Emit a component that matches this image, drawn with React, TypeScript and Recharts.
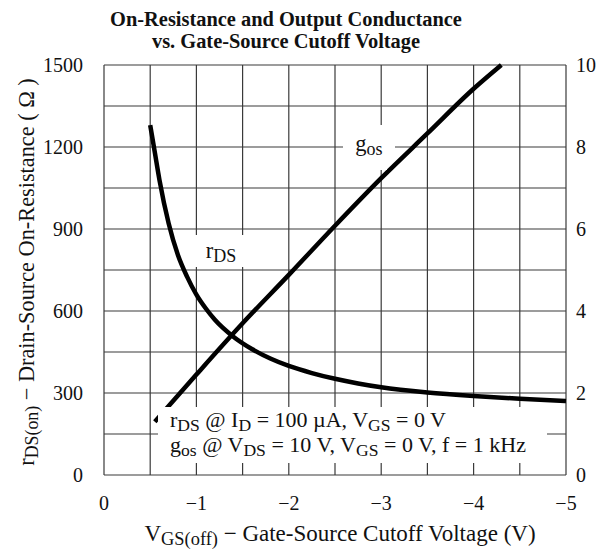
import { LineChart, Line, XAxis, YAxis } from 'recharts'

// V_GS(off) in volts (negative)
const rdsVolts = [-0.5, -0.55, -0.6, -0.7, -0.8, -0.9, -1.0, -1.1, -1.2, -1.4, -1.6, -1.8, -2.0, -2.25, -2.5, -2.75, -3.0, -3.5, -4.0, -4.5, -5.0]
const rdsOhms  = [1280, 1180, 1080, 920, 805, 725, 660, 610, 568, 506, 461, 426, 399, 373, 352, 335, 321, 302, 289, 279, 271]

const gosVolts = [-0.55, -1.0, -1.5, -2.0, -2.5, -3.0, -3.5, -4.0, -4.3]
const gosValues = [1.3, 2.45, 3.7, 4.88, 6.08, 7.24, 8.33, 9.42, 10]

const xTicks = [0, -0.5, -1, -1.5, -2, -2.5, -3, -3.5, -4, -4.5, -5]
const rTicks = [0, 150, 300, 450, 600, 750, 900, 1050, 1200, 1350, 1500]
const gTicks = [0, 2, 4, 6, 8, 10]

const rdsData = rdsVolts.map((v, i) => ({ v, r: rdsOhms[i] }))
const gosData = gosVolts.map((v, i) => ({ v, g: gosValues[i] }))

// grid drawn as two-point series, one per tick, so it goes through the chart scales
const vGrid = xTicks.map(t => [{ v: t, r: 0 }, { v: t, r: 1500 }])
const hGrid = rTicks.map(t => [{ v: 0, r: t }, { v: -5, r: t }])

const FONT = '"Liberation Serif", "Times New Roman", serif'
const GRID = '#3a3a3a'

const sub = { fontSize: '0.8em', position: 'relative' as const, top: '0.22em' }

// only whole volts / multiples of 300 get a label, the half steps are grid only
const VoltTick = ({ x, y, payload }: any) =>
  Number.isInteger(payload.value) ? (
    <text x={x} y={y} dy="0.71em" textAnchor="middle" fontSize={20} fill="#111" fontFamily={FONT}>
      {payload.value === 0 ? '0' : '\u2212' + Math.abs(payload.value)}
    </text>
  ) : null

const OhmTick = ({ x, y, payload }: any) =>
  payload.value % 300 === 0 ? (
    <text x={x} y={y} dy="0.355em" textAnchor="end" fontSize={20} fill="#111" fontFamily={FONT}>
      {payload.value}
    </text>
  ) : null

const GosTick = ({ x, y, payload }: any) => (
  <text x={x} y={y} dy="0.355em" textAnchor="start" fontSize={20} fill="#111" fontFamily={FONT}>
    {payload.value}
  </text>
)

export default function App() {
  return (
    <div style={{ position: 'absolute', left: 0, top: 0, width: 605, height: 552, background: '#fff', fontFamily: FONT, color: '#111' }}>
      <LineChart width={605} height={552} margin={{ top: 65, right: 0, bottom: 0, left: 0 }}>
        <XAxis
          dataKey="v"
          type="number"
          domain={[-5, 0]}
          reversed
          ticks={xTicks}
          interval={0}
          height={77}
          tickLine={false}
          axisLine={false}
          tickSize={0}
          tickMargin={21}
          tick={<VoltTick />}
        />
        <YAxis
          domain={[0, 1500]}
          ticks={rTicks}
          interval={0}
          width={104}
          tickLine={false}
          axisLine={false}
          tickSize={0}
          tickMargin={21}
          tick={<OhmTick />}
        />
        <YAxis
          yAxisId="g"
          orientation="right"
          domain={[0, 10]}
          ticks={gTicks}
          interval={0}
          width={39}
          tickLine={false}
          axisLine={false}
          tickSize={0}
          tickMargin={10}
          tick={<GosTick />}
        />
        {vGrid.map((d, i) => (
          <Line key={'vg' + i} data={d} dataKey="r" type="linear" stroke={GRID} strokeWidth={1.2} dot={false} activeDot={false} isAnimationActive={false} />
        ))}
        {hGrid.map((d, i) => (
          <Line key={'hg' + i} data={d} dataKey="r" type="linear" stroke={GRID} strokeWidth={1.2} dot={false} activeDot={false} isAnimationActive={false} />
        ))}
        <Line
          data={rdsData}
          dataKey="r"
          type="monotone"
          stroke="#000"
          strokeWidth={4.5}
          dot={false}
          isAnimationActive={false}
        />
        <Line
          yAxisId="g"
          data={gosData}
          dataKey="g"
          type="monotone"
          stroke="#000"
          strokeWidth={4.5}
          dot={false}
          isAnimationActive={false}
        />
      </LineChart>

      {/* title */}
      <div style={{ position: 'absolute', left: 0, width: 572, top: 9, textAlign: 'center', fontWeight: 'bold', fontSize: 20.4, lineHeight: '21.5px' }}>
        On-Resistance and Output Conductance<br />vs. Gate-Source Cutoff Voltage
      </div>

      {/* y axis title */}
      <div style={{ position: 'absolute', left: 27, top: 272, width: 0, height: 0 }}>
        <div style={{ position: 'absolute', left: 0, top: 0, transform: 'translate(-50%, -50%) rotate(-90deg)', whiteSpace: 'nowrap', fontSize: 22.3, lineHeight: '24px' }}>
          r<span style={sub}>DS(on)</span> − Drain-Source On-Resistance ( Ω )
        </div>
      </div>

      {/* x axis title */}
      <div style={{ position: 'absolute', left: 0, width: 680, top: 522, textAlign: 'center', fontSize: 23, lineHeight: '24px', whiteSpace: 'nowrap' }}>
        V<span style={sub}>GS(off)</span> − Gate-Source Cutoff Voltage (V)
      </div>

      {/* series labels: white patches that break the grid */}
      <div style={{ position: 'absolute', left: 190, top: 235, width: 62, height: 32, background: '#fff', textAlign: 'center', fontSize: 22.5, lineHeight: '32px' }}>
        r<span style={sub}>DS</span>
      </div>
      <div style={{ position: 'absolute', left: 375, top: 158, width: 12, height: 12, background: '#fff' }} />
      <div style={{ position: 'absolute', left: 343, top: 125, width: 52, height: 33, background: '#fff', textAlign: 'center', fontSize: 22.5, lineHeight: '38px' }}>
        g<span style={sub}>os</span>
      </div>

      {/* conditions note */}
      <div style={{ position: 'absolute', left: 158, top: 407, width: 389, height: 56, background: '#fff', boxSizing: 'border-box', paddingLeft: 12, paddingTop: 1, fontSize: 22, lineHeight: '23px', whiteSpace: 'nowrap' }}>
        r<span style={sub}>DS</span> @ I<span style={sub}>D</span> = 100 µA, V<span style={sub}>GS</span> = 0 V
        <br />
        g<span style={sub}>os</span> @ V<span style={sub}>DS</span> = 10 V, V<span style={sub}>GS</span> = 0 V, f = 1 kHz
      </div>
    </div>
  )
}
